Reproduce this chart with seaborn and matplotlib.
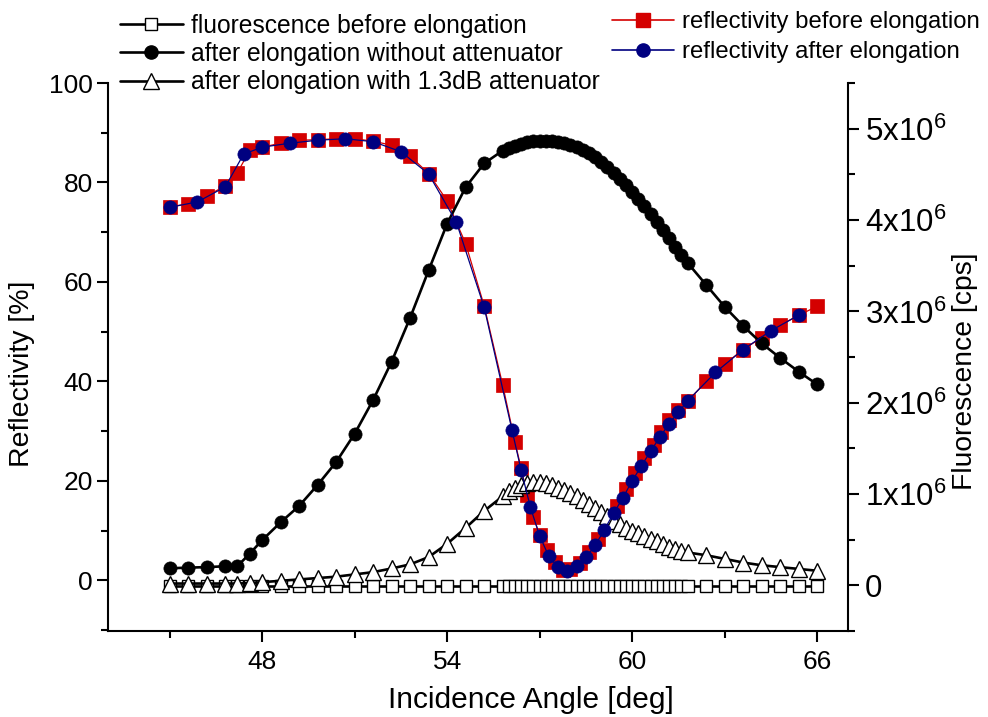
import matplotlib
matplotlib.use("Agg")
import matplotlib.pyplot as plt
import seaborn as sns
from matplotlib.ticker import FixedLocator, MultipleLocator
from matplotlib.lines import Line2D

# ---------------- data ----------------
# fluorescence (units of 10^6 cps) share one angle grid
angle_fl = [45.0, 45.6, 46.2, 46.8, 47.2, 47.6, 48.0, 48.6, 49.2, 49.8, 50.4, 51.0, 51.6, 52.2, 52.8,
            53.4, 54.0, 54.6, 55.2, 55.8,
            56.0, 56.2, 56.4, 56.6, 56.8, 57.0, 57.2, 57.4, 57.6, 57.8, 58.0, 58.2, 58.4, 58.6, 58.8,
            59.0, 59.2, 59.4, 59.6, 59.8, 60.0, 60.2, 60.4, 60.6, 60.8, 61.0, 61.2, 61.4, 61.6, 61.8,
            62.4, 63.0, 63.6, 64.2, 64.8, 65.4, 66.0]
fl_before = [-0.01, -0.01, -0.01, -0.01, -0.01, -0.01, -0.01, -0.01, -0.01, -0.01, -0.01, -0.01, -0.01,
             -0.01, -0.01, -0.01, -0.01, -0.01, -0.01, -0.01,
             -0.01, -0.01, -0.01, -0.01, -0.01, -0.01, -0.01, -0.01, -0.01, -0.01, -0.01, -0.01, -0.01,
             -0.01, -0.01, -0.01, -0.01, -0.01, -0.01, -0.01, -0.01, -0.01, -0.01, -0.01, -0.01, -0.01,
             -0.01, -0.01, -0.01, -0.01,
             -0.01, -0.01, -0.01, -0.01, -0.01, -0.01, -0.01]
fl_after = [0.187, 0.194, 0.200, 0.209, 0.212, 0.348, 0.495, 0.690, 0.870, 1.100, 1.350, 1.660, 2.030,
            2.450, 2.930, 3.450, 3.960, 4.360, 4.620, 4.760,
            4.79, 4.81, 4.83, 4.85, 4.86, 4.865, 4.865, 4.86, 4.85, 4.84, 4.82, 4.80, 4.77, 4.73, 4.69,
            4.64, 4.58, 4.52, 4.45, 4.38, 4.31, 4.23, 4.15, 4.07, 3.98, 3.89, 3.80, 3.71, 3.62, 3.53,
            3.29, 3.05, 2.84, 2.65, 2.49, 2.34, 2.20]
fl_att = [0.02, 0.02, 0.02, 0.02, 0.02, 0.025, 0.035, 0.05, 0.065, 0.08, 0.095, 0.12, 0.145, 0.185,
          0.23, 0.31, 0.455, 0.63, 0.815, 0.975,
          1.03, 1.07, 1.10, 1.12, 1.13, 1.13, 1.12, 1.10, 1.07, 1.04, 1.01, 0.98, 0.94, 0.89, 0.85,
          0.80, 0.76, 0.71, 0.67, 0.63, 0.60, 0.57, 0.54, 0.51, 0.49, 0.45, 0.42, 0.40, 0.38, 0.36,
          0.33, 0.29, 0.25, 0.22, 0.20, 0.18, 0.16]

# reflectivity before elongation (%)
angle_rb = [45.0, 45.6, 46.2, 46.8, 47.2, 47.6, 48.0, 48.6, 49.2, 49.8, 50.4, 51.0, 51.6, 52.2, 52.8,
            53.4, 54.0, 54.6, 55.2, 55.8,
            56.2, 56.4, 56.6, 56.8, 57.0, 57.25, 57.5, 57.75, 58.0, 58.3, 58.6, 58.9, 59.2, 59.5, 59.8,
            60.1, 60.4, 60.7, 60.95, 61.2, 61.5, 61.8,
            62.4, 63.0, 63.6, 64.2, 64.8, 65.4, 66.0]
refl_before = [75.1, 75.7, 77.3, 79.3, 82.0, 86.5, 87.1, 87.9, 88.5, 88.6, 88.8, 88.8, 88.3, 87.5, 85.3,
               81.8, 76.3, 67.7, 55.2, 39.3,
               27.8, 22.5, 17.1, 12.7, 9.1, 6.0, 3.7, 2.0, 2.2, 3.5, 5.6, 8.4, 11.7, 15.0, 18.4,
               21.6, 24.5, 27.3, 29.8, 32.2, 34.3, 36.0,
               40.0, 43.5, 46.4, 48.8, 51.3, 53.3, 55.1]

# reflectivity after elongation (%)
angle_ra = [45.0, 45.9, 46.8, 47.4, 48.0, 48.9, 49.8, 50.7, 51.6, 52.5, 53.4, 54.3, 55.2,
            56.1, 56.4, 56.7, 57.0, 57.3, 57.6, 57.9, 58.2, 58.5, 58.8, 59.1, 59.4, 59.7, 60.0,
            60.3, 60.6, 60.9, 61.2, 61.5, 61.8,
            62.7, 63.6, 64.5, 65.4]
refl_after = [75.0, 76.1, 79.1, 85.7, 87.1, 87.9, 88.5, 88.8, 88.2, 86.2, 81.7, 72.0, 54.9,
              30.3, 22.1, 14.7, 8.9, 4.8, 2.6, 1.9, 2.8, 4.6, 7.0, 10.2, 13.5, 16.6, 20.0,
              23.0, 26.0, 28.8, 31.5, 33.8, 36.1,
              41.8, 46.4, 50.2, 53.3]

fl_ticks = [0, 1, 2, 3, 4, 5]
fl_ticklabels = ["0", "1x10$^6$", "2x10$^6$", "3x10$^6$", "4x10$^6$", "5x10$^6$"]
x_major = [48, 54, 60, 66]
x_minor = [45, 51, 57, 63]

# ---------------- style ----------------
sns.set_style("ticks")
plt.rcParams["font.family"] = ["Liberation Sans", "DejaVu Sans"]
plt.rcParams["mathtext.fontset"] = "custom"
plt.rcParams["mathtext.rm"] = "Liberation Sans"
plt.rcParams["mathtext.it"] = "Liberation Sans"
plt.rcParams["mathtext.bf"] = "Liberation Sans:bold"
plt.rcParams["text.color"] = "black"
plt.rcParams["axes.labelcolor"] = "black"
plt.rcParams["xtick.color"] = "black"
plt.rcParams["ytick.color"] = "black"
plt.rcParams["axes.edgecolor"] = "black"

RED = "#d40000"
NAVY = "#000080"

fig = plt.figure(figsize=(9.88, 7.17), dpi=100)
ax = fig.add_axes([0.1093, 0.1199, 0.749, 0.7643])
ax2 = ax.twinx()
ax3 = ax.twinx()
ax.set_zorder(1)
ax2.set_zorder(2)
ax3.set_zorder(3)
ax2.patch.set_visible(False)
ax3.patch.set_visible(False)

MS_RSQ = 10.5
MS_CIRC = 9.5
MS_TRI = 11
MS_OSQ = 8.5

# reflectivity before (bottom layer)
sns.lineplot(x=angle_rb, y=refl_before, ax=ax, estimator=None, sort=False, legend=False,
             color=RED, linewidth=0.9, marker="s", markersize=MS_RSQ,
             markerfacecolor=RED, markeredgecolor=RED, markeredgewidth=0.5)

# fluorescence
sns.lineplot(x=angle_fl, y=fl_before, ax=ax2, estimator=None, sort=False, legend=False,
             color="black", linewidth=1.9, marker="s", markersize=MS_OSQ,
             markerfacecolor="white", markeredgecolor="black", markeredgewidth=1.0)
sns.lineplot(x=angle_fl, y=fl_att, ax=ax2, estimator=None, sort=False, legend=False,
             color="black", linewidth=1.9, marker="^", markersize=MS_TRI,
             markerfacecolor="white", markeredgecolor="black", markeredgewidth=1.0)
sns.lineplot(x=angle_fl, y=fl_after, ax=ax2, estimator=None, sort=False, legend=False,
             color="black", linewidth=1.9, marker="o", markersize=MS_CIRC,
             markerfacecolor="black", markeredgecolor="black", markeredgewidth=0.5)

# reflectivity after (top layer)
sns.lineplot(x=angle_ra, y=refl_after, ax=ax3, estimator=None, sort=False, legend=False,
             color=NAVY, linewidth=0.9, marker="o", markersize=MS_CIRC,
             markerfacecolor=NAVY, markeredgecolor=NAVY, markeredgewidth=0.5)

# ---------------- axes ----------------
ax.set_xlim(43, 67)
ax.set_ylim(-10.2, 100)
ax2.set_ylim(-0.5, 5.5)
ax3.set_ylim(-10.2, 100)
ax3.set_axis_off()

ax.xaxis.set_major_locator(FixedLocator(x_major))
ax.xaxis.set_minor_locator(FixedLocator(x_minor))
ax.yaxis.set_major_locator(MultipleLocator(20))
ax.yaxis.set_minor_locator(MultipleLocator(10))
ax2.yaxis.set_major_locator(FixedLocator(fl_ticks))
ax2.set_yticklabels(fl_ticklabels)
ax2.yaxis.set_minor_locator(MultipleLocator(0.5))

for a in (ax, ax2):
    for s in a.spines.values():
        s.set_linewidth(1.5)
        s.set_color("black")
ax.spines["top"].set_visible(False)
ax.spines["right"].set_visible(False)
ax2.spines["top"].set_visible(False)
ax2.spines["left"].set_visible(False)
ax2.spines["bottom"].set_visible(False)

ax.tick_params(axis="both", which="major", direction="out", length=8, width=1.5,
               labelsize=19, pad=3, color="black", labelcolor="black")
ax.tick_params(axis="x", which="major", pad=6)
ax.tick_params(axis="both", which="minor", direction="out", length=5, width=1.5, color="black")
ax2.tick_params(axis="y", which="major", direction="out", length=8, width=1.5,
                labelsize=22.5, pad=4, color="black", labelcolor="black")
ax2.tick_params(axis="y", which="minor", direction="out", length=5, width=1.5, color="black")
ax.grid(False)
ax2.grid(False)

ax.set_xlabel("Incidence Angle [deg]", fontsize=21.5, color="black")
ax.xaxis.set_label_coords(0.572, -0.100)
ax.set_ylabel("Reflectivity [%]", fontsize=20.5, color="black")
ax.yaxis.set_label_coords(-0.099, 0.47)
ax2.set_ylabel("Fluorescence [cps]", fontsize=20.3, color="black")
ax2.yaxis.set_label_coords(1.140, 0.474)

# ---------------- legends ----------------
h_before = Line2D([], [], color="black", lw=1.9, marker="s", ms=MS_OSQ, mfc="white", mec="black", mew=1.0)
h_after = Line2D([], [], color="black", lw=1.9, marker="o", ms=MS_CIRC, mfc="black", mec="black")
h_att = Line2D([], [], color="black", lw=1.9, marker="^", ms=MS_TRI, mfc="white", mec="black", mew=1.0)
h_rb = Line2D([], [], color=RED, lw=1.2, marker="s", ms=MS_RSQ, mfc=RED, mec=RED)
h_ra = Line2D([], [], color=NAVY, lw=1.2, marker="o", ms=MS_CIRC, mfc=NAVY, mec=NAVY)

fig.legend(handles=[h_before, h_after, h_att],
           labels=["fluorescence before elongation", "after elongation without attenuator",
                   "after elongation with 1.3dB attenuator"],
           loc="upper left", bbox_to_anchor=(0.1215, 0.981), frameon=False, fontsize=17.7,
           handlelength=2.55, handletextpad=0.33, labelspacing=0.18, borderpad=0, borderaxespad=0,
           labelcolor="black")
fig.legend(handles=[h_rb, h_ra],
           labels=["reflectivity before elongation", "reflectivity after elongation"],
           loc="upper left", bbox_to_anchor=(0.619, 0.984), frameon=False, fontsize=17.2,
           handlelength=2.6, handletextpad=0.35, labelspacing=0.32, borderpad=0, borderaxespad=0,
           labelcolor="black")

fig.savefig("out.png", dpi=100, facecolor="white")
